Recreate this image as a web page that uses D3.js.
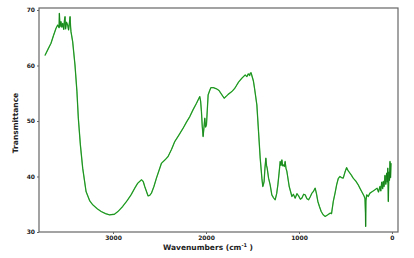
<!DOCTYPE html>
<html>
<head>
<meta charset="utf-8">
<script src="https://cdn.jsdelivr.net/npm/d3@7"></script>
<style>
  html, body { margin: 0; padding: 0; background: #fff; }
  svg { display: block; }
  .tick text { font-family: "DejaVu Sans", sans-serif; font-weight: bold; font-size: 6px; fill: #222; }
  .axis-title { font-family: "DejaVu Sans", sans-serif; font-weight: bold; font-size: 7.5px; fill: #222; }
</style>
</head>
<body>
<svg id="chart" width="414" height="258"></svg>
<script>
// FTIR spectrum
const wavenumbers = [
  3732, 3700, 3667, 3640, 3613, 3595, 3580, 3577, 3570, 3560, 3550, 3541, 3530, 3522, 3516, 3510,
  3500, 3488, 3478, 3470, 3462, 3456, 3452, 3434, 3409, 3388, 3373, 3351, 3326, 3290, 3250,
  3218, 3170, 3128, 3080, 3038, 2985, 2940, 2896, 2850, 2806, 2766, 2734, 2694, 2675, 2659,
  2623, 2605, 2587, 2560, 2533, 2479, 2440, 2408, 2370, 2336, 2290, 2246, 2210, 2174, 2140,
  2102, 2067, 2058, 2049, 2040, 2031, 2022, 2013, 2004, 1995, 1977, 1960, 1948, 1920, 1887,
  1860, 1841, 1820, 1805, 1785, 1762, 1722, 1690, 1650, 1615, 1579, 1560, 1545, 1530, 1525,
  1515, 1507, 1490, 1478, 1453, 1435, 1417, 1399, 1389, 1382, 1375, 1366, 1356, 1349, 1342,
  1327, 1310, 1300, 1292, 1275, 1256, 1240, 1227, 1214, 1202, 1193, 1184, 1175, 1166, 1157,
  1149, 1140, 1130, 1105, 1076, 1060, 1041, 1022, 1004, 985, 969, 950, 933, 915, 897,
  880, 861, 845, 826, 812, 797, 780, 761, 740, 718, 690, 664, 650, 631, 612,
  595, 578, 560, 542, 524, 505, 488, 470, 452, 435, 417, 390, 363, 345, 326,
  310, 298, 290, 285, 283, 280, 272, 255, 237, 210, 183, 160, 145, 129, 120,
  110, 100, 93, 85, 75, 66, 57, 50, 45, 39, 33, 27, 21, 15, 10
];
const transmittance = [
  61.8, 62.9, 64.0, 65.4, 66.7, 67.3, 66.8, 69.4, 67.0, 67.9, 66.9, 67.6, 66.5, 68.2, 68.8, 66.6,
  67.8, 67.3, 66.4, 67.5, 68.8, 66.9, 66.1, 64.3, 60.1, 55.3, 50.5, 45.7, 41.5, 37.3, 35.6,
  34.9, 34.2, 33.7, 33.3, 33.1, 33.2, 33.8, 34.6, 35.6, 36.7, 37.9, 38.8, 39.4, 39.1, 38.2,
  36.5, 36.6, 37.0, 38.2, 39.7, 42.4, 43.0, 43.6, 44.9, 46.3, 47.5, 48.7, 49.8, 50.8, 52.0,
  53.2, 54.4, 53.6, 51.7, 49.0, 47.2, 48.8, 50.5, 48.9, 49.3, 54.7, 55.5, 56.0, 56.0, 55.8,
  55.5, 55.0, 54.5, 54.1, 54.4, 54.8, 55.3, 55.9, 57.0, 57.7, 58.3, 58.0, 58.5, 58.2, 58.6,
  58.7, 58.2, 57.2, 55.9, 52.9, 48.1, 43.3, 39.7, 38.2, 38.6, 39.1, 41.5, 43.3, 42.0, 41.5,
  39.7, 38.5, 37.5, 36.7, 36.2, 35.8, 36.9, 38.5, 40.6, 42.7, 42.0, 43.0, 41.9, 42.1, 41.8,
  42.7, 41.5, 40.9, 38.2, 36.4, 36.8, 36.1, 36.9, 36.5, 35.9, 36.1, 36.8, 36.7, 36.0, 35.8,
  36.3, 37.0, 37.3, 37.9, 36.9, 35.5, 34.6, 33.7, 33.1, 32.8, 33.1, 33.4, 33.3, 35.5, 37.0,
  38.5, 39.6, 40.0, 39.8, 39.7, 40.8, 41.6, 41.0, 40.6, 40.2, 39.7, 39.2, 38.5, 37.9, 37.3,
  36.8, 36.4, 36.0, 33.5, 31.0, 35.6, 36.7, 36.4, 37.0, 37.3, 37.6, 37.9, 37.2, 38.2, 37.4,
  39.0, 37.8, 39.1, 38.2, 40.2, 38.6, 40.6, 39.0, 41.5, 35.5, 40.8, 39.3, 42.7, 39.8, 42.4
];

const yTicks = [30, 40, 50, 60, 70];
const xTicks = [3000, 2000, 1000, 0];

const frame = { left: 39, right: 398, top: 8, bottom: 232 };

const svg = d3.select("#chart");

const x = d3.scaleLinear().domain([3796, -65]).range([frame.left, frame.right]);
const y = d3.scaleLinear().domain([30, 70.36]).range([frame.bottom, frame.top]);

const data = wavenumbers.map((w, i) => ({ w, t: transmittance[i] }));

// spectrum: light green halo under a dark green core
const line = d3.line().x((d) => x(d.w)).y((d) => y(d.t));
svg.append("path")
  .datum(data)
  .attr("fill", "none")
  .attr("stroke", "#3cbf3c")
  .attr("stroke-width", 1.3)
  .attr("stroke-linejoin", "round")
  .attr("d", line);
svg.append("path")
  .datum(data)
  .attr("fill", "none")
  .attr("stroke", "#0e6b12")
  .attr("stroke-width", 0.6)
  .attr("stroke-linejoin", "round")
  .attr("d", line);

// axes
const xAxis = d3.axisBottom(x).tickValues(xTicks).tickFormat(d3.format("d")).tickSize(2).tickPadding(2);
const gx = svg.append("g")
  .attr("transform", `translate(0,${frame.bottom})`)
  .call(xAxis);
const yAxis = d3.axisLeft(y).tickValues(yTicks).tickFormat(d3.format("d")).tickSize(2).tickPadding(2);
const gy = svg.append("g")
  .attr("transform", `translate(${frame.left},0)`)
  .call(yAxis);
for (const g of [gx, gy]) {
  g.select(".domain").remove();
  g.selectAll(".tick line").attr("stroke", "#666");
}

// frame
svg.append("rect")
  .attr("x", frame.left)
  .attr("y", frame.top)
  .attr("width", frame.right - frame.left)
  .attr("height", frame.bottom - frame.top)
  .attr("fill", "none")
  .attr("stroke", "#666")
  .attr("stroke-width", 1.2);

svg.append("text")
  .attr("class", "axis-title")
  .attr("x", 208)
  .attr("y", 250)
  .attr("text-anchor", "middle")
  .html('Wavenumbers (cm<tspan dy="-3" font-size="5px">-1</tspan><tspan dy="3"> )</tspan>');

svg.append("text")
  .attr("class", "axis-title")
  .attr("transform", `translate(18,${(frame.top + frame.bottom) / 2 + 3}) rotate(-90)`)
  .attr("text-anchor", "middle")
  .text("Transmittance");
</script>
</body>
</html>
